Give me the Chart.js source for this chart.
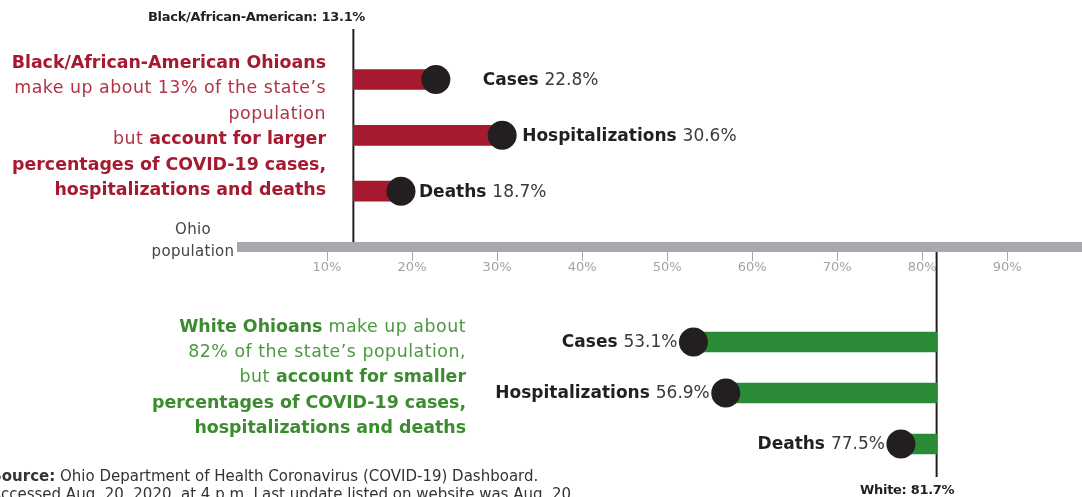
<!DOCTYPE html>
<html>
<head>
<meta charset="utf-8">
<script src="https://cdn.jsdelivr.net/npm/chart.js@4.4.1/dist/chart.umd.min.js"></script>
<style>
  html, body { margin: 0; padding: 0; background: #fff; overflow: hidden; }
  body { width: 1082px; height: 497px; position: relative; font-family: "DejaVu Sans", sans-serif; }
  canvas.layer { position: absolute; left: 0; top: 0; }
  .txt { position: absolute; white-space: nowrap; }
  .para { font-size: 17.4px; line-height: 25.4px; text-align: right; }
  .para span { letter-spacing: 0.5px; }
  .para b { letter-spacing: 0; }
  #redNote { right: 756px; top: 50px; color: #a6192e; }
  #redNote span { color: #b03446; }
  #greenNote { right: 616px; top: 314px; color: #3b8b2f; line-height: 25.2px; }
  #greenNote span { color: #4c9a40; }
  #blackPopLabel { left: 148px; top: 9px; font-size: 13px; font-weight: bold; color: #231f20; letter-spacing: -0.3px; }
  #whitePopLabel { left: 860px; top: 482px; font-size: 13px; font-weight: bold; color: #231f20; letter-spacing: -0.3px; }
  #ohioPop { left: 143px; top: 218px; width: 100px; text-align: center; font-size: 15px; line-height: 22px; color: #444; letter-spacing: 0.3px; }
  #source { left: -9px; top: 467px; font-size: 15px; line-height: 18px; color: #333; }
</style>
</head>
<body>
<canvas class="layer" id="blackChart" width="1082" height="497"></canvas>
<canvas class="layer" id="whiteChart" width="1082" height="497"></canvas>

<div class="txt para" id="redNote">
  <b>Black/African-American Ohioans</b><br>
  <span>make up about 13% of the state’s</span><br>
  <span>population</span><br>
  <span>but </span><b>account for larger</b><br>
  <b>percentages of COVID-19 cases,</b><br>
  <b>hospitalizations and deaths</b>
</div>
<div class="txt para" id="greenNote">
  <b>White Ohioans</b><span> make up about</span><br>
  <span>82% of the state’s population,</span><br>
  <span>but </span><b>account for smaller</b><br>
  <b>percentages of COVID-19 cases,</b><br>
  <b>hospitalizations and deaths</b>
</div>
<div class="txt" id="blackPopLabel">Black/African-American: 13.1%</div>
<div class="txt" id="whitePopLabel">White: 81.7%</div>
<div class="txt" id="ohioPop">Ohio<br>population</div>
<div class="txt" id="source"><b>Source:</b> Ohio Department of Health Coronavirus (COVID-19) Dashboard.<br>Accessed Aug. 20, 2020, at 4 p.m. Last update listed on website was Aug. 20.</div>

<script>
// values (share of Ohio totals, %)
const categories = ['Cases', 'Hospitalizations', 'Deaths'];
const blackShare = [22.8, 30.6, 18.7];
const whiteShare = [53.1, 56.9, 77.5];
const blackPop = 13.1;
const whitePop = 81.7;
const tickValues = [10, 20, 30, 40, 50, 60, 70, 80, 90];

const red = '#a6192e';
const green = '#2b8a36';
const dot = '#231f20';
const band = '#a7a9ac';
const xMax = 98.8;

// red labels sit a bit further from some dots than others in the original
const blackLabelGap = [32, 5, 3];

function popLine(value, yFrom, yTo) {
    return {
        id: 'popLine',
        beforeDatasetsDraw(chart) {
            const x = chart.scales.x.getPixelForValue(value);
            const ctx = chart.ctx;
            ctx.save();
            ctx.strokeStyle = dot;
            ctx.lineWidth = 2;
            ctx.beginPath();
            ctx.moveTo(x, yFrom(chart));
            ctx.lineTo(x, yTo(chart));
            ctx.stroke();
            ctx.restore();
        }
    };
}

function valueLabels(values, side, gaps) {
    return {
        id: 'valueLabels',
        afterDatasetsDraw(chart) {
            const ctx = chart.ctx;
            const pts = chart.getDatasetMeta(1).data;
            ctx.save();
            ctx.textBaseline = 'middle';
            ctx.textAlign = 'left';
            for (let i = 0; i < values.length; i++) {
                const p = pts[i];
                const name = categories[i] + ' ';
                const val = values[i].toFixed(1) + '%';
                ctx.font = 'bold 17px "DejaVu Sans"';
                const wName = ctx.measureText(name).width;
                ctx.font = '17px "DejaVu Sans"';
                const wVal = ctx.measureText(val).width;
                let x;
                if (side === 'right') {
                    x = p.x + 15 + gaps[i];
                } else {
                    x = p.x - 16 - wName - wVal;
                }
                ctx.font = 'bold 17px "DejaVu Sans"';
                ctx.fillStyle = '#231f20';
                ctx.fillText(name, x, p.y + 1);
                ctx.font = '17px "DejaVu Sans"';
                ctx.fillStyle = '#3a3a3a';
                ctx.fillText(val, x + wName, p.y + 1);
            }
            ctx.restore();
        }
    };
}

Chart.defaults.font.family = '"DejaVu Sans", sans-serif';

// top half: Black/African-American Ohioans, with the shared percentage axis
new Chart(document.getElementById('blackChart'), {
    type: 'bar',
    data: {
        labels: [...categories, ''],
        datasets: [{
            data: [...blackShare.map(v => [blackPop, v]), null],
            backgroundColor: red,
            barThickness: 20,
            borderSkipped: false,
            clip: false,
            order: 2
        }, {
            type: 'line',
            data: [...blackShare, null],
            showLine: false,
            pointRadius: 14.5,
            pointBackgroundColor: dot,
            pointBorderWidth: 0,
            clip: false,
            order: 1
        }]
    },
    options: {
        indexAxis: 'y',
        responsive: false,
        animation: false,
        events: [],
        layout: { autoPadding: false, padding: { top: 79.5, left: 242, right: 0, bottom: 220 } },
        plugins: { legend: { display: false }, tooltip: { enabled: false } },
        scales: {
            x: {
                type: 'linear',
                min: 0,
                max: xMax,
                afterBuildTicks: s => { s.ticks = tickValues.map(v => ({ value: v })); },
                afterFit: s => { s.height = 30; s.paddingLeft = 0; s.paddingRight = 0; },
                grid: { drawOnChartArea: false, drawTicks: true, tickLength: 14, color: band, lineWidth: 1 },
                border: { display: true, width: 10, color: band },
                ticks: { padding: -1, color: '#a3a3a3', font: { size: 13 }, callback: v => v + '%' }
            },
            y: { display: false, offset: false }
        }
    },
    plugins: [
        popLine(blackPop, c => 29, c => c.chartArea.bottom - 5),
        valueLabels(blackShare, 'right', blackLabelGap)
    ]
});

// bottom half: White Ohioans
new Chart(document.getElementById('whiteChart'), {
    type: 'bar',
    data: {
        labels: categories,
        datasets: [{
            data: whiteShare.map(v => [v, whitePop]),
            backgroundColor: green,
            barThickness: 20,
            borderSkipped: false,
            clip: false,
            order: 2
        }, {
            type: 'line',
            data: whiteShare,
            showLine: false,
            pointRadius: 14.5,
            pointBackgroundColor: dot,
            pointBorderWidth: 0,
            clip: false,
            order: 1
        }]
    },
    options: {
        indexAxis: 'y',
        responsive: false,
        animation: false,
        events: [],
        layout: { autoPadding: false, padding: { top: 342, left: 242, right: 0, bottom: 53 } },
        plugins: { legend: { display: false }, tooltip: { enabled: false } },
        scales: {
            x: { type: 'linear', min: 0, max: xMax, display: false },
            y: { display: false, offset: false }
        }
    },
    plugins: [
        popLine(whitePop, c => 252, c => 477),
        valueLabels(whiteShare, 'left', [0, 0, 0])
    ]
});
</script>
</body>
</html>
